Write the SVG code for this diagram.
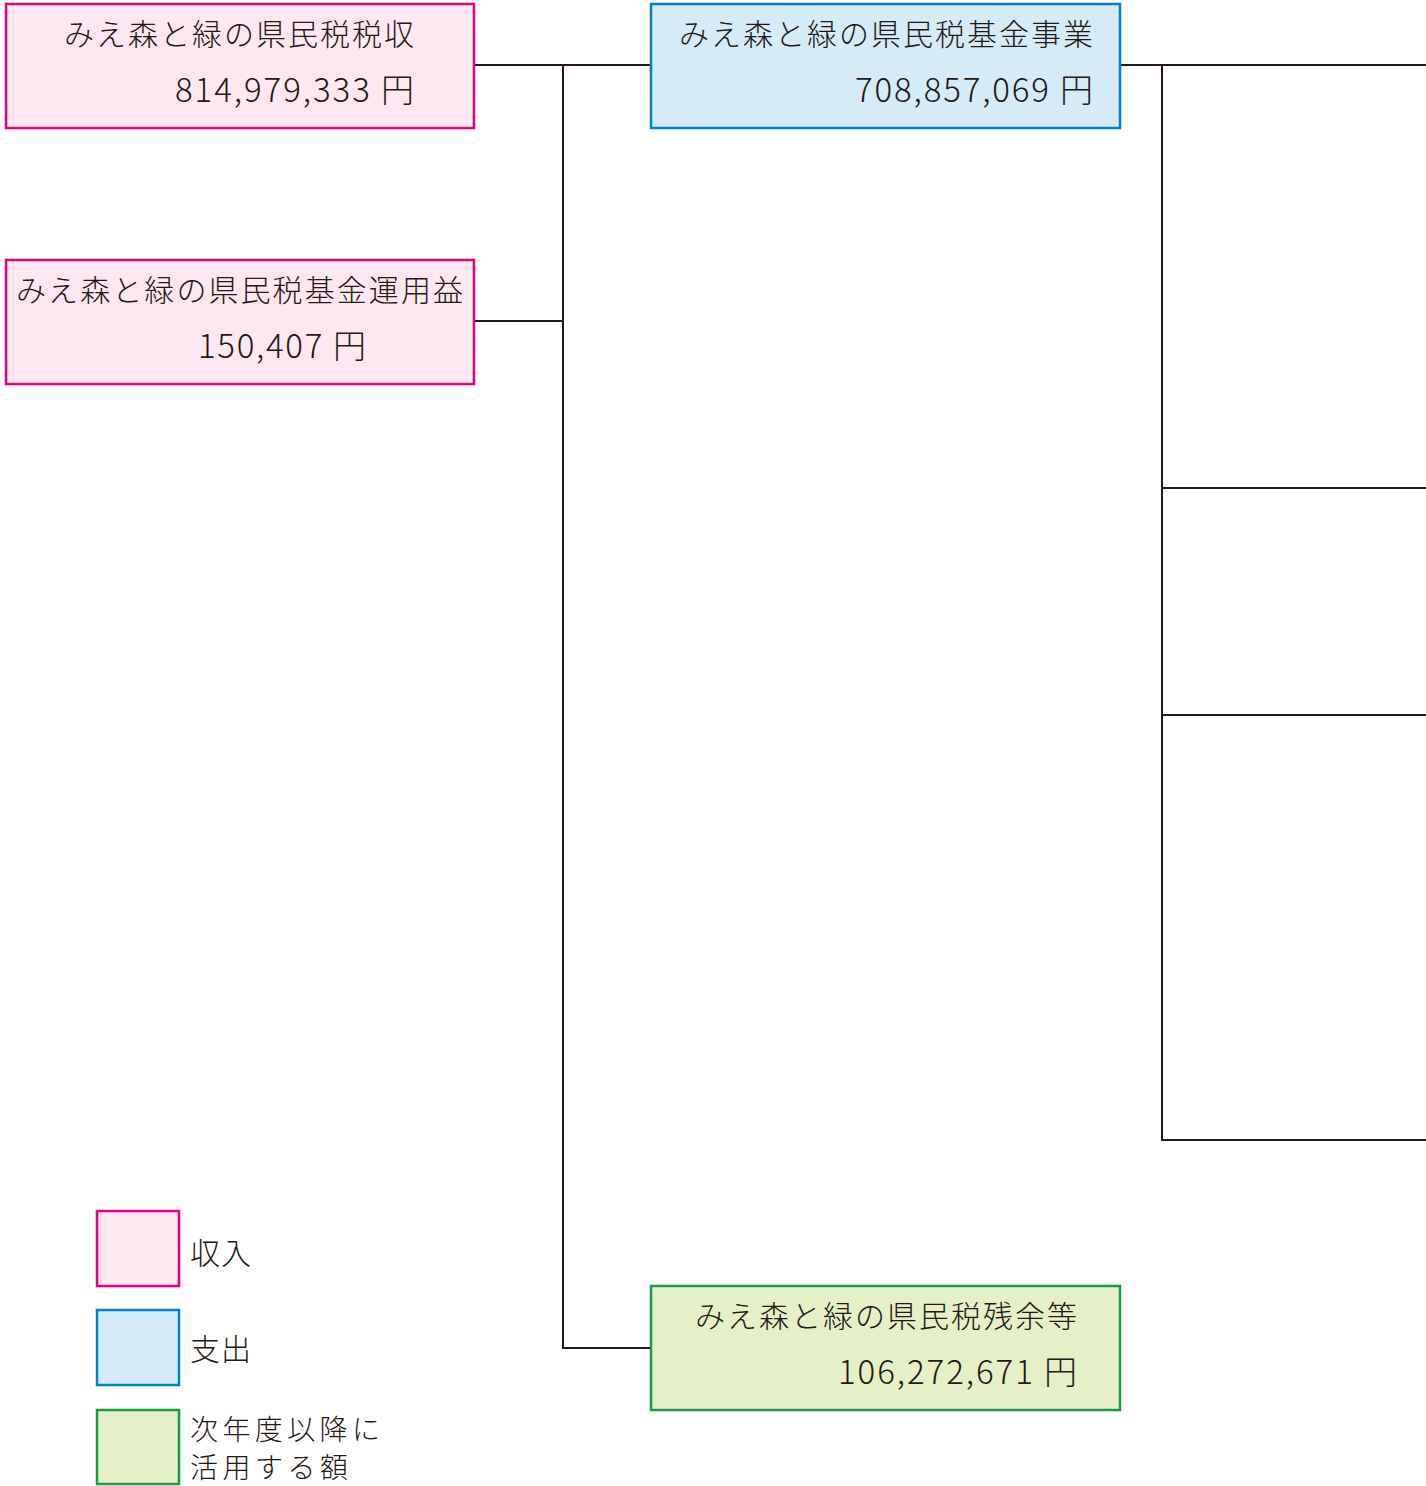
<svg xmlns="http://www.w3.org/2000/svg" width="1426" height="1486" viewBox="0 0 1426 1486">
<style>
text{font-family:"Noto Sans CJK JP","Noto Sans",sans-serif;fill:#231815;font-size:30px;font-weight:300}
.num{font-size:33px}
.lg{font-size:28px}
.inc{fill:#fde8f1;stroke:#e4007f;stroke-width:2.5}
.exp{fill:#d5ecf8;stroke:#0080cc;stroke-width:2.5}
.rem{fill:#e6f0c6;stroke:#1a9a48;stroke-width:2.5}
.ln{stroke:#231815;stroke-width:2;fill:none}
</style>
<rect width="1426" height="1486" fill="#fff"/>
<g id="connectors">
<path class="ln" d="M474 65H651M563 65V1348H651M474 321H563"/>
<path class="ln" d="M1120 65H1426M1162 65V1140H1426M1162 488H1426M1162 715H1426"/>
</g>
<g id="node-tax">
<rect class="inc" x="6" y="4" width="468" height="124"/>
<text x="414" y="45" text-anchor="end" textLength="350" lengthAdjust="spacing">みえ森と緑の県民税税収</text>
<text class="num" x="414" y="102" text-anchor="end" textLength="239" lengthAdjust="spacing">814,979,333 円</text>
</g>
<g id="node-interest">
<rect class="inc" x="6" y="260" width="468" height="124"/>
<text x="16" y="301" textLength="447" lengthAdjust="spacing">みえ森と緑の県民税基金運用益</text>
<text class="num" x="366" y="358" text-anchor="end" textLength="168" lengthAdjust="spacing">150,407 円</text>
</g>
<g id="node-fund">
<rect class="exp" x="651" y="4" width="469" height="124"/>
<text x="1093" y="45" text-anchor="end" textLength="414" lengthAdjust="spacing">みえ森と緑の県民税基金事業</text>
<text class="num" x="1093" y="102" text-anchor="end" textLength="238" lengthAdjust="spacing">708,857,069 円</text>
</g>
<g id="node-remain">
<rect class="rem" x="651" y="1286" width="469" height="124"/>
<text x="1077" y="1327" text-anchor="end" textLength="382" lengthAdjust="spacing">みえ森と緑の県民税残余等</text>
<text class="num" x="1077" y="1384" text-anchor="end" textLength="239" lengthAdjust="spacing">106,272,671 円</text>
</g>
<g id="legend">
<rect class="inc" x="97" y="1211" width="82" height="75"/>
<text x="190" y="1264" textLength="61" lengthAdjust="spacing">収入</text>
<rect class="exp" x="97" y="1310" width="82" height="75"/>
<text x="190" y="1360" textLength="61" lengthAdjust="spacing">支出</text>
<rect class="rem" x="97" y="1410" width="82" height="74"/>
<text class="lg" x="190" y="1440" textLength="190" lengthAdjust="spacing">次年度以降に</text>
<text class="lg" x="190" y="1478" textLength="158" lengthAdjust="spacing">活用する額</text>
</g>
</svg>
